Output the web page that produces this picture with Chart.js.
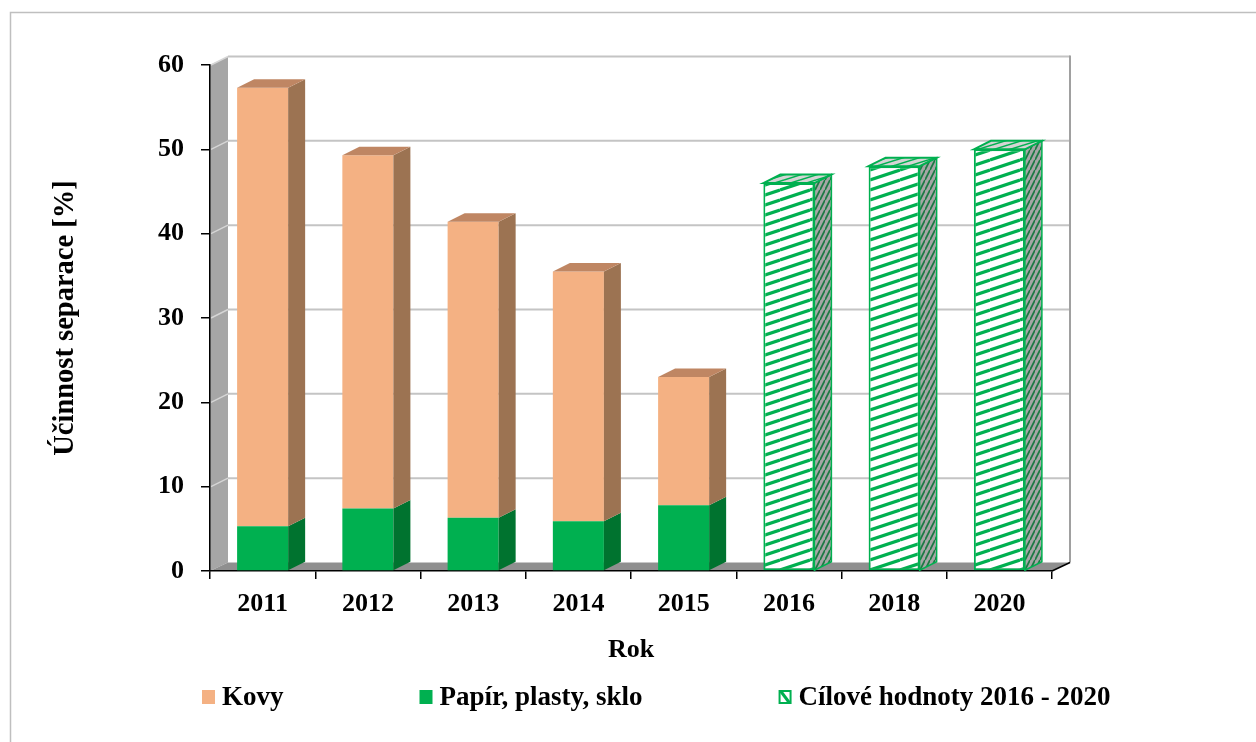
<!DOCTYPE html>
<html>
<head>
<meta charset="utf-8">
<script src="https://cdn.jsdelivr.net/npm/chart.js@4.4.1/dist/chart.umd.min.js"></script>
<style>
  html, body { margin: 0; padding: 0; background: #fff; }
</style>
</head>
<body>
<canvas id="chart" width="1256" height="742"></canvas>
<script>
// data
const years = ['2011', '2012', '2013', '2014', '2015', '2016', '2018', '2020'];
const papir = [5.3, 7.4, 6.3, 5.9, 7.8, null, null, null];
const kovy = [52.0, 41.9, 35.1, 29.6, 15.2, null, null, null];
const cil = [null, null, null, null, null, 46, 48, 50];
const yTicks = [0, 10, 20, 30, 40, 50, 60];

const FONT = '"Liberation Serif", "Times New Roman", serif';
const font = { family: FONT, size: 26, weight: 'bold' };
const DX = 17, DY = -8.5;   // depth of the 3D look

function stripes(w, h, bg, fg, lw) {
    const c = document.createElement('canvas');
    c.width = w; c.height = h;
    const g = c.getContext('2d');
    g.fillStyle = bg;
    g.fillRect(0, 0, w, h);
    g.strokeStyle = fg;
    g.lineWidth = lw;
    for (const o of [-h, 0, h]) {
        g.beginPath();
        g.moveTo(0, h + o);
        g.lineTo(w, o);
        g.stroke();
    }
    return g.createPattern(c, 'repeat');
}

const hatchFront = stripes(30, 10, '#ffffff', '#00b050', 3.2);
const hatchSide = stripes(5, 10, '#a6a6a6', '#1d7a44', 1.8);
const hatchTop = stripes(16, 5, '#d4d4d4', '#00b050', 1.5);

function poly(ctx, pts, fill, stroke, lw) {
    ctx.beginPath();
    ctx.moveTo(pts[0][0], pts[0][1]);
    for (let i = 1; i < pts.length; i++) ctx.lineTo(pts[i][0], pts[i][1]);
    ctx.closePath();
    if (fill) { ctx.fillStyle = fill; ctx.fill(); }
    if (stroke) { ctx.strokeStyle = stroke; ctx.lineWidth = lw || 1; ctx.stroke(); }
}

const threeD = {
    id: 'threeD',
    beforeDraw(chart) {
        const { ctx, chartArea: a, scales: { y } } = chart;
        ctx.save();
        // outer frame
        ctx.strokeStyle = '#bfbfbf';
        ctx.lineWidth = 1.5;
        ctx.strokeRect(10.5, 12.5, 1300, 800);
        // left wall
        poly(ctx, [[a.left, a.bottom], [a.left + DX + 1, a.bottom + DY], [a.left + DX + 1, a.top + DY], [a.left, a.top]], '#a6a6a6');
        // floor
        poly(ctx, [[a.left, a.bottom], [a.right, a.bottom], [a.right + DX + 1, a.bottom + DY], [a.left + DX + 1, a.bottom + DY]], '#8f8f8f');
        // gridlines on back wall and left wall
        yTicks.forEach(v => {
            if (v === 0) return;
            const py = y.getPixelForValue(v);
            ctx.strokeStyle = '#c4c4c4';
            ctx.lineWidth = 2;
            ctx.beginPath();
            ctx.moveTo(a.left + DX + 1, py + DY);
            ctx.lineTo(a.right + DX + 1, py + DY);
            ctx.stroke();
            ctx.strokeStyle = '#d6d6d6';
            ctx.lineWidth = 1.5;
            ctx.beginPath();
            ctx.moveTo(a.left + 1, py);
            ctx.lineTo(a.left + DX + 1, py + DY);
            ctx.stroke();
        });
        // right edge of back wall
        ctx.strokeStyle = '#a0a0a0';
        ctx.lineWidth = 2;
        ctx.beginPath();
        ctx.moveTo(a.right + DX + 1, a.bottom + DY);
        ctx.lineTo(a.right + DX + 1, a.top + DY - 1);
        ctx.stroke();
        ctx.restore();
    },
    afterDatasetsDraw(chart) {
        const { ctx } = chart;
        ctx.save();
        chart.data.datasets.forEach((ds, di) => {
            const meta = chart.getDatasetMeta(di);
            meta.data.forEach((bar, i) => {
                if (ds.data[i] == null) return;
                const p = bar.getProps(['x', 'y', 'base', 'width'], true);
                const l = p.x - p.width / 2, r = p.x + p.width / 2;
                const side = [[r, p.y], [r + DX, p.y + DY], [r + DX, p.base + DY], [r, p.base]];
                const top = [[l, p.y], [l + DX, p.y + DY], [r + DX, p.y + DY], [r, p.y]];
                if (ds.hatched) {
                    poly(ctx, side, hatchSide, '#00b050', 1.5);
                    poly(ctx, top, hatchTop, '#00b050', 2);
                } else {
                    poly(ctx, side, ds.sideColor);
                    if (ds.topColor) poly(ctx, top, ds.topColor);
                }
            });
        });
        ctx.restore();
    },
    afterDraw(chart) {
        const { ctx, chartArea: a } = chart;
        ctx.save();
        // axis continues into depth at the right
        ctx.strokeStyle = '#000';
        ctx.lineWidth = 1.5;
        ctx.beginPath();
        ctx.moveTo(a.right, a.bottom);
        ctx.lineTo(a.right + DX + 1, a.bottom + DY);
        ctx.stroke();

        // legend
        const order = [1, 0, 2];
        ctx.font = 'bold 27px ' + FONT;
        ctx.textBaseline = 'middle';
        ctx.textAlign = 'left';
        let x = 202;
        const cy = 697;
        order.forEach(di => {
            const ds = chart.data.datasets[di];
            if (ds.hatched) {
                ctx.fillStyle = '#ffffff';
                ctx.fillRect(x, cy - 7, 13, 14);
                ctx.strokeStyle = '#00b050';
                ctx.lineWidth = 2;
                ctx.strokeRect(x + 1, cy - 6, 11, 12);
                ctx.lineWidth = 3;
                ctx.beginPath();
                ctx.moveTo(x + 2, cy - 6);
                ctx.lineTo(x + 11, cy + 6);
                ctx.stroke();
            } else {
                ctx.fillStyle = ds.backgroundColor;
                ctx.fillRect(x, cy - 7, 13, 14);
            }
            ctx.fillStyle = '#000';
            ctx.fillText(ds.label, x + 20, cy + 1);
            x += 20 + ctx.measureText(ds.label).width + 136;
        });
        ctx.restore();
    }
};

new Chart(document.getElementById('chart'), {
    type: 'bar',
    data: {
        labels: years,
        datasets: [
            {
                label: 'Papír, plasty, sklo',
                data: papir,
                backgroundColor: '#00b050',
                sideColor: '#00732f'
            },
            {
                label: 'Kovy',
                data: kovy,
                backgroundColor: '#f4b183',
                sideColor: '#9c7352',
                topColor: '#bf8663'
            },
            {
                label: 'Cílové hodnoty 2016 - 2020',
                data: cil,
                backgroundColor: hatchFront,
                borderColor: '#00b050',
                borderWidth: 2,
                borderSkipped: false,
                hatched: true
            }
        ]
    },
    options: {
        responsive: false,
        animation: false,
        layout: { padding: { left: 40, top: 65, right: 204, bottom: 70 } },
        datasets: { bar: { categoryPercentage: 0.5, barPercentage: 0.97 } },
        plugins: {
            legend: { display: false },
            tooltip: { enabled: false }
        },
        scales: {
            x: {
                stacked: true,
                grid: { drawOnChartArea: false, tickLength: 8, color: '#000', lineWidth: 1.5 },
                border: { color: '#000', width: 1.5 },
                ticks: { font: font, color: '#000', padding: 10 },
                title: { display: true, text: 'Rok', font: font, color: '#000', padding: { top: 6, bottom: 6 } },
                afterFit: s => { s.height = 101; }
            },
            y: {
                stacked: true,
                min: 0,
                max: 60,
                afterBuildTicks: s => { s.ticks = yTicks.map(v => ({ value: v })); },
                grid: { drawOnChartArea: false, tickLength: 9, color: '#000', lineWidth: 1.5 },
                border: { color: '#000', width: 1.5 },
                ticks: { font: font, color: '#000', padding: 17 },
                title: {
                    display: true,
                    text: 'Účinnost separace [%]',
                    font: { family: FONT, size: 28.5, weight: 'bold' },
                    color: '#000',
                    padding: { top: 9, bottom: 9 }
                },
                afterFit: s => { s.width = 170; }
            }
        }
    },
    plugins: [threeD]
});
</script>
</body>
</html>
